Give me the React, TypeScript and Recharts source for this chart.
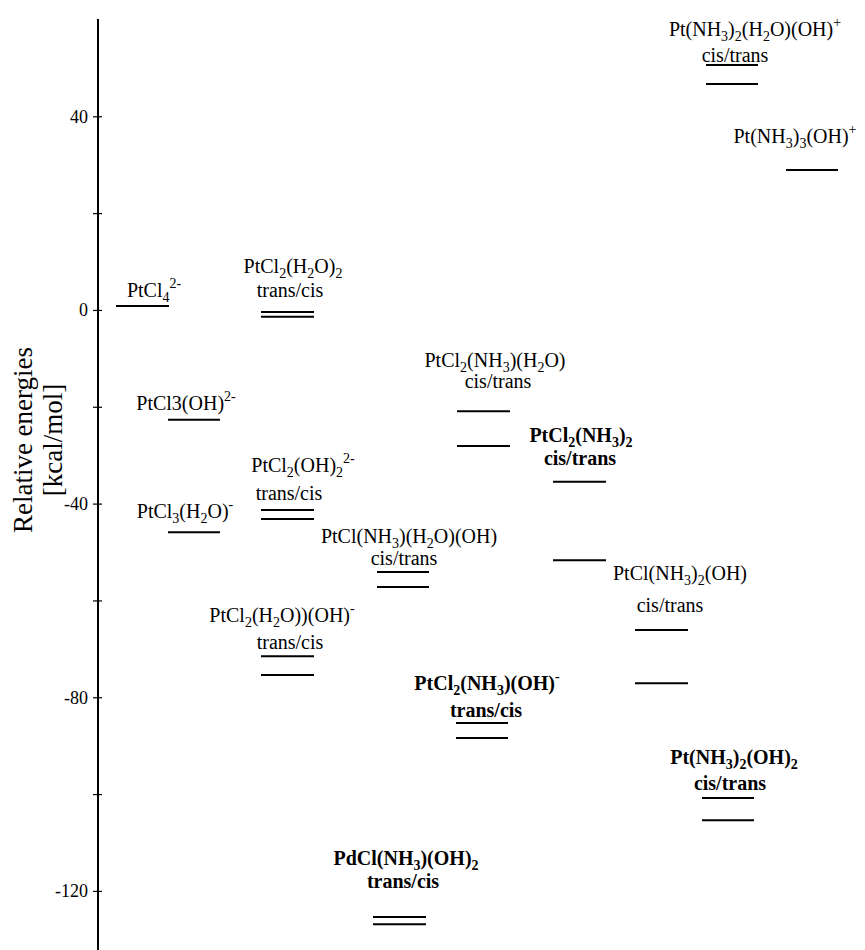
import { ComposedChart, Line, Scatter, XAxis, YAxis } from 'recharts'

const FONT = "'Liberation Serif', 'Times New Roman', Times, 'DejaVu Serif', serif"

/** 縱軸範圍（kcal/mol） */
const Y_MIN = -132.1
const Y_MAX = 60.2
/** 橫向：反應座標（任意單位） */
const X_MAX = 767

const Y_TICKS = [40, 20, 0, -20, -40, -60, -80, -100, -120]
const Y_TICK_LABELS = [40, 0, -40, -80, -120]

/** 能階：每個物種的橫向起訖與能量（可含兩個異構體） */
const LEVEL_X1 = [18, 163, 70, 70, 163, 279, 163, 359, 455, 358, 275, 537, 604, 608, 688]
const LEVEL_X2 = [71, 216, 122, 122, 216, 331, 216, 412, 508, 410, 328, 590, 656, 660, 740]
const LEVEL_E = [
  [0.9],
  [-0.3, -1.3],
  [-22.6],
  [-45.8],
  [-41.2, -43.1],
  [-54.0, -57.1],
  [-71.4, -75.3],
  [-20.8, -28.0],
  [-35.4, -51.6],
  [-85.2, -88.3],
  [-125.3, -126.8],
  [-66.0, -77.0],
  [-100.7, -105.3],
  [50.7, 46.8],
  [29.0],
]

/** 標註文字：_{} 下標、^{} 上標 */
const LABEL_TEXT = [
  'PtCl_{4}^{2-}',
  'PtCl_{2}(H_{2}O)_{2}', 'trans/cis',
  'PtCl3(OH)^{2-}',
  'PtCl_{3}(H_{2}O)^{-}',
  'PtCl_{2}(OH)_{2}^{2-}', 'trans/cis',
  'PtCl(NH_{3})(H_{2}O)(OH)', 'cis/trans',
  'PtCl_{2}(H_{2}O))(OH)^{-}', 'trans/cis',
  'PtCl_{2}(NH_{3})(H_{2}O)', 'cis/trans',
  'PtCl_{2}(NH_{3})_{2}', 'cis/trans',
  'PtCl_{2}(NH_{3})(OH)^{-}', 'trans/cis',
  'PdCl(NH_{3})(OH)_{2}', 'trans/cis',
  'PtCl(NH_{3})_{2}(OH)', 'cis/trans',
  'Pt(NH_{3})_{2}(OH)_{2}', 'cis/trans',
  'Pt(NH_{3})_{2}(H_{2}O)(OH)^{+}', 'cis/trans',
  'Pt(NH_{3})_{3}(OH)^{+}',
]
const LABEL_X = [
  56,
  195, 192,
  88,
  87,
  205, 191,
  311, 306,
  184, 192,
  397, 400,
  483, 482,
  389, 388,
  308, 305,
  582, 572,
  636, 632,
  657, 637,
  697,
]
const LABEL_Y = [
  2.8,
  7.7, 2.8,
  -20.6,
  -42.9,
  -33.4, -39.2,
  -48.0, -52.6,
  -64.4, -69.9,
  -11.7, -16.0,
  -27.2, -31.9,
  -78.4, -84.0,
  -114.6, -119.3,
  -55.7, -62.3,
  -93.7, -99.1,
  56.7, 51.3,
  34.6,
]
const LABEL_BOLD = [
  false,
  false, false,
  false,
  false,
  false, false,
  false, false,
  false, false,
  false, false,
  true, true,
  true, true,
  true, true,
  false, false,
  true, true,
  false, false,
  false,
]

const levelSeries = LEVEL_E.flatMap((es, i) =>
  es.map((e, j) => ({
    key: `lv-${i}-${j}`,
    data: [
      { x: LEVEL_X1[i], y: e },
      { x: LEVEL_X2[i], y: e },
    ],
  }))
)

const labelData = LABEL_TEXT.map((text, i) => ({
  x: LABEL_X[i],
  y: LABEL_Y[i],
  text,
  bold: LABEL_BOLD[i],
}))

function parseFormula(s: string) {
  return s
    .split(/(_\{[^}]*\}|\^\{[^}]*\})/)
    .filter(Boolean)
    .map((p) => {
      if (p.startsWith('_{')) return { t: p.slice(2, -1), shift: 5 }
      if (p.startsWith('^{')) return { t: p.slice(2, -1), shift: -9 }
      return { t: p, shift: 0 }
    })
}

function FormulaLabel(props: any) {
  const { cx, cy, payload } = props
  if (cx == null || cy == null) return null
  let cur = 0
  const segs = parseFormula(payload.text)
  return (
    <text
      x={cx}
      y={cy}
      textAnchor="middle"
      style={{ fontFamily: FONT, fontSize: 20, fontWeight: payload.bold ? 700 : 400 }}
      fill="#000"
    >
      {segs.map((s, k) => {
        const dy = s.shift - cur
        cur = s.shift
        return (
          <tspan key={k} dy={dy} style={{ fontSize: s.shift ? 14 : 20 }}>
            {s.t}
          </tspan>
        )
      })}
    </text>
  )
}

function YTick(props: any) {
  const { x, y, payload } = props
  const v = payload.value
  return (
    <g>
      <line x1={x - 5} x2={x + 4} y1={y} y2={y} stroke="#000" strokeWidth={1.2} />
      {Y_TICK_LABELS.includes(v) && (
        <text x={x - 10} y={y} dy={6} textAnchor="end" style={{ fontFamily: FONT, fontSize: 18 }} fill="#000">
          {v}
        </text>
      )}
    </g>
  )
}

function AxisTitle() {
  return (
    <g style={{ fontFamily: FONT, fontSize: 27 }} fill="#000">
      <text transform="translate(24, 432) rotate(-90)" textAnchor="middle">
        Relative energies
      </text>
      <text transform="translate(54, 432) rotate(-90)" textAnchor="middle">
        [kcal/mol]
      </text>
    </g>
  )
}

export default function App() {
  return (
    <ComposedChart width={857} height={942} margin={{ top: 11, right: 0, left: 0, bottom: 0 }}>
      <XAxis
        xAxisId={0}
        type="number"
        dataKey="x"
        orientation="top"
        domain={[0, X_MAX]}
        allowDataOverflow
        height={0}
        tick={false}
        tickLine={false}
        axisLine={{ stroke: '#000', strokeWidth: 2 }}
      />
      <YAxis
        type="number"
        dataKey="y"
        domain={[Y_MIN, Y_MAX]}
        allowDataOverflow
        ticks={Y_TICKS}
        interval={0}
        width={90}
        tickSize={0}
        tickMargin={0}
        tickLine={false}
        axisLine={{ stroke: '#000', strokeWidth: 2 }}
        tick={<YTick />}
      />
      {levelSeries.map((s) => (
        <Line
          key={s.key}
          data={s.data}
          dataKey="y"
          stroke="#000"
          strokeWidth={2}
          dot={false}
          activeDot={false}
          isAnimationActive={false}
          legendType="none"
        />
      ))}
      <Scatter data={labelData} dataKey="y" shape={<FormulaLabel />} isAnimationActive={false} />
      <AxisTitle />
    </ComposedChart>
  )
}
